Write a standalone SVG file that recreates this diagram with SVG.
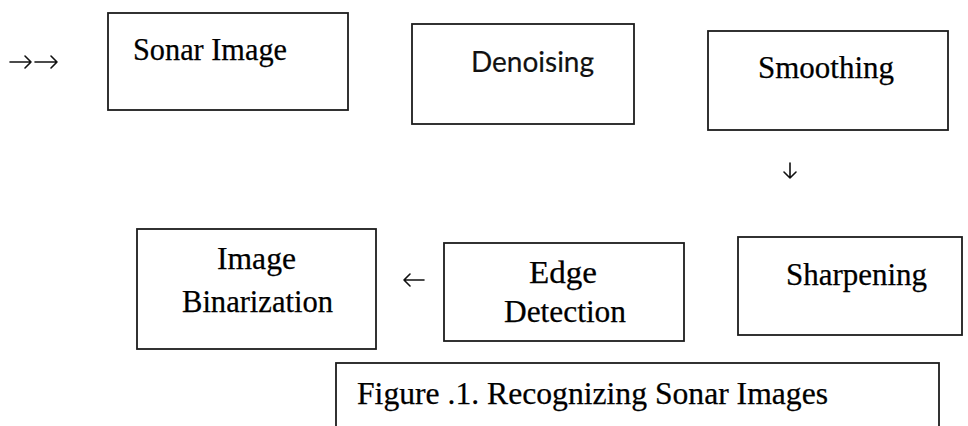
<svg xmlns="http://www.w3.org/2000/svg" width="968" height="426" viewBox="0 0 968 426">
<defs>
<style>
.box{fill:#fff;stroke:#1c1c1c;stroke-width:1.8}
.t{font-family:"Liberation Serif","Times New Roman",serif;font-size:31px;fill:#000;stroke:#000;stroke-width:0.25}
.s{font-family:Lato,"Open Sans","Liberation Sans",sans-serif;font-size:29px;fill:#111;stroke:#111;stroke-width:0.2}
.c{fill:none;stroke:#111;stroke-width:1.6;stroke-linecap:round;stroke-linejoin:round}
</style>
</defs>
<rect width="968" height="426" fill="#fff"/>
<g id="connectors">
<path class="c" d="M10 62H31M25 56L31 62L25 68"/>
<path class="c" d="M35 62H57M51 56L57 62L51 68"/>
<path class="c" d="M790 163V178M784 172L790 178L796 172"/>
<path class="c" d="M424 280H404M410 274L404 280L410 286"/>
</g>
<g id="sonar-image">
<rect class="box" x="108" y="13" width="240" height="97"/>
<text class="t" x="133" y="60" textLength="154" lengthAdjust="spacingAndGlyphs">Sonar Image</text>
</g>
<g id="denoising">
<rect class="box" x="412" y="24" width="222" height="100"/>
<text class="s" x="471" y="72" textLength="123" lengthAdjust="spacingAndGlyphs">Denoising</text>
</g>
<g id="smoothing">
<rect class="box" x="708" y="31" width="240" height="99"/>
<text class="t" x="758" y="78" textLength="136" lengthAdjust="spacingAndGlyphs">Smoothing</text>
</g>
<g id="sharpening">
<rect class="box" x="738" y="237" width="224" height="98"/>
<text class="t" x="786" y="285" textLength="141" lengthAdjust="spacingAndGlyphs">Sharpening</text>
</g>
<g id="edge-detection">
<rect class="box" x="444" y="243" width="240" height="98"/>
<text class="t" x="529" y="283" textLength="68" lengthAdjust="spacingAndGlyphs">Edge</text>
<text class="t" x="504" y="322" textLength="122" lengthAdjust="spacingAndGlyphs">Detection</text>
</g>
<g id="image-binarization">
<rect class="box" x="137" y="229" width="239" height="120"/>
<text class="t" x="217" y="269" textLength="79" lengthAdjust="spacingAndGlyphs">Image</text>
<text class="t" x="182" y="312" textLength="151" lengthAdjust="spacingAndGlyphs">Binarization</text>
</g>
<g id="caption">
<rect class="box" x="336" y="363" width="603" height="80"/>
<text class="t" x="357" y="404" textLength="471" lengthAdjust="spacingAndGlyphs">Figure .1. Recognizing Sonar Images</text>
</g>
</svg>
